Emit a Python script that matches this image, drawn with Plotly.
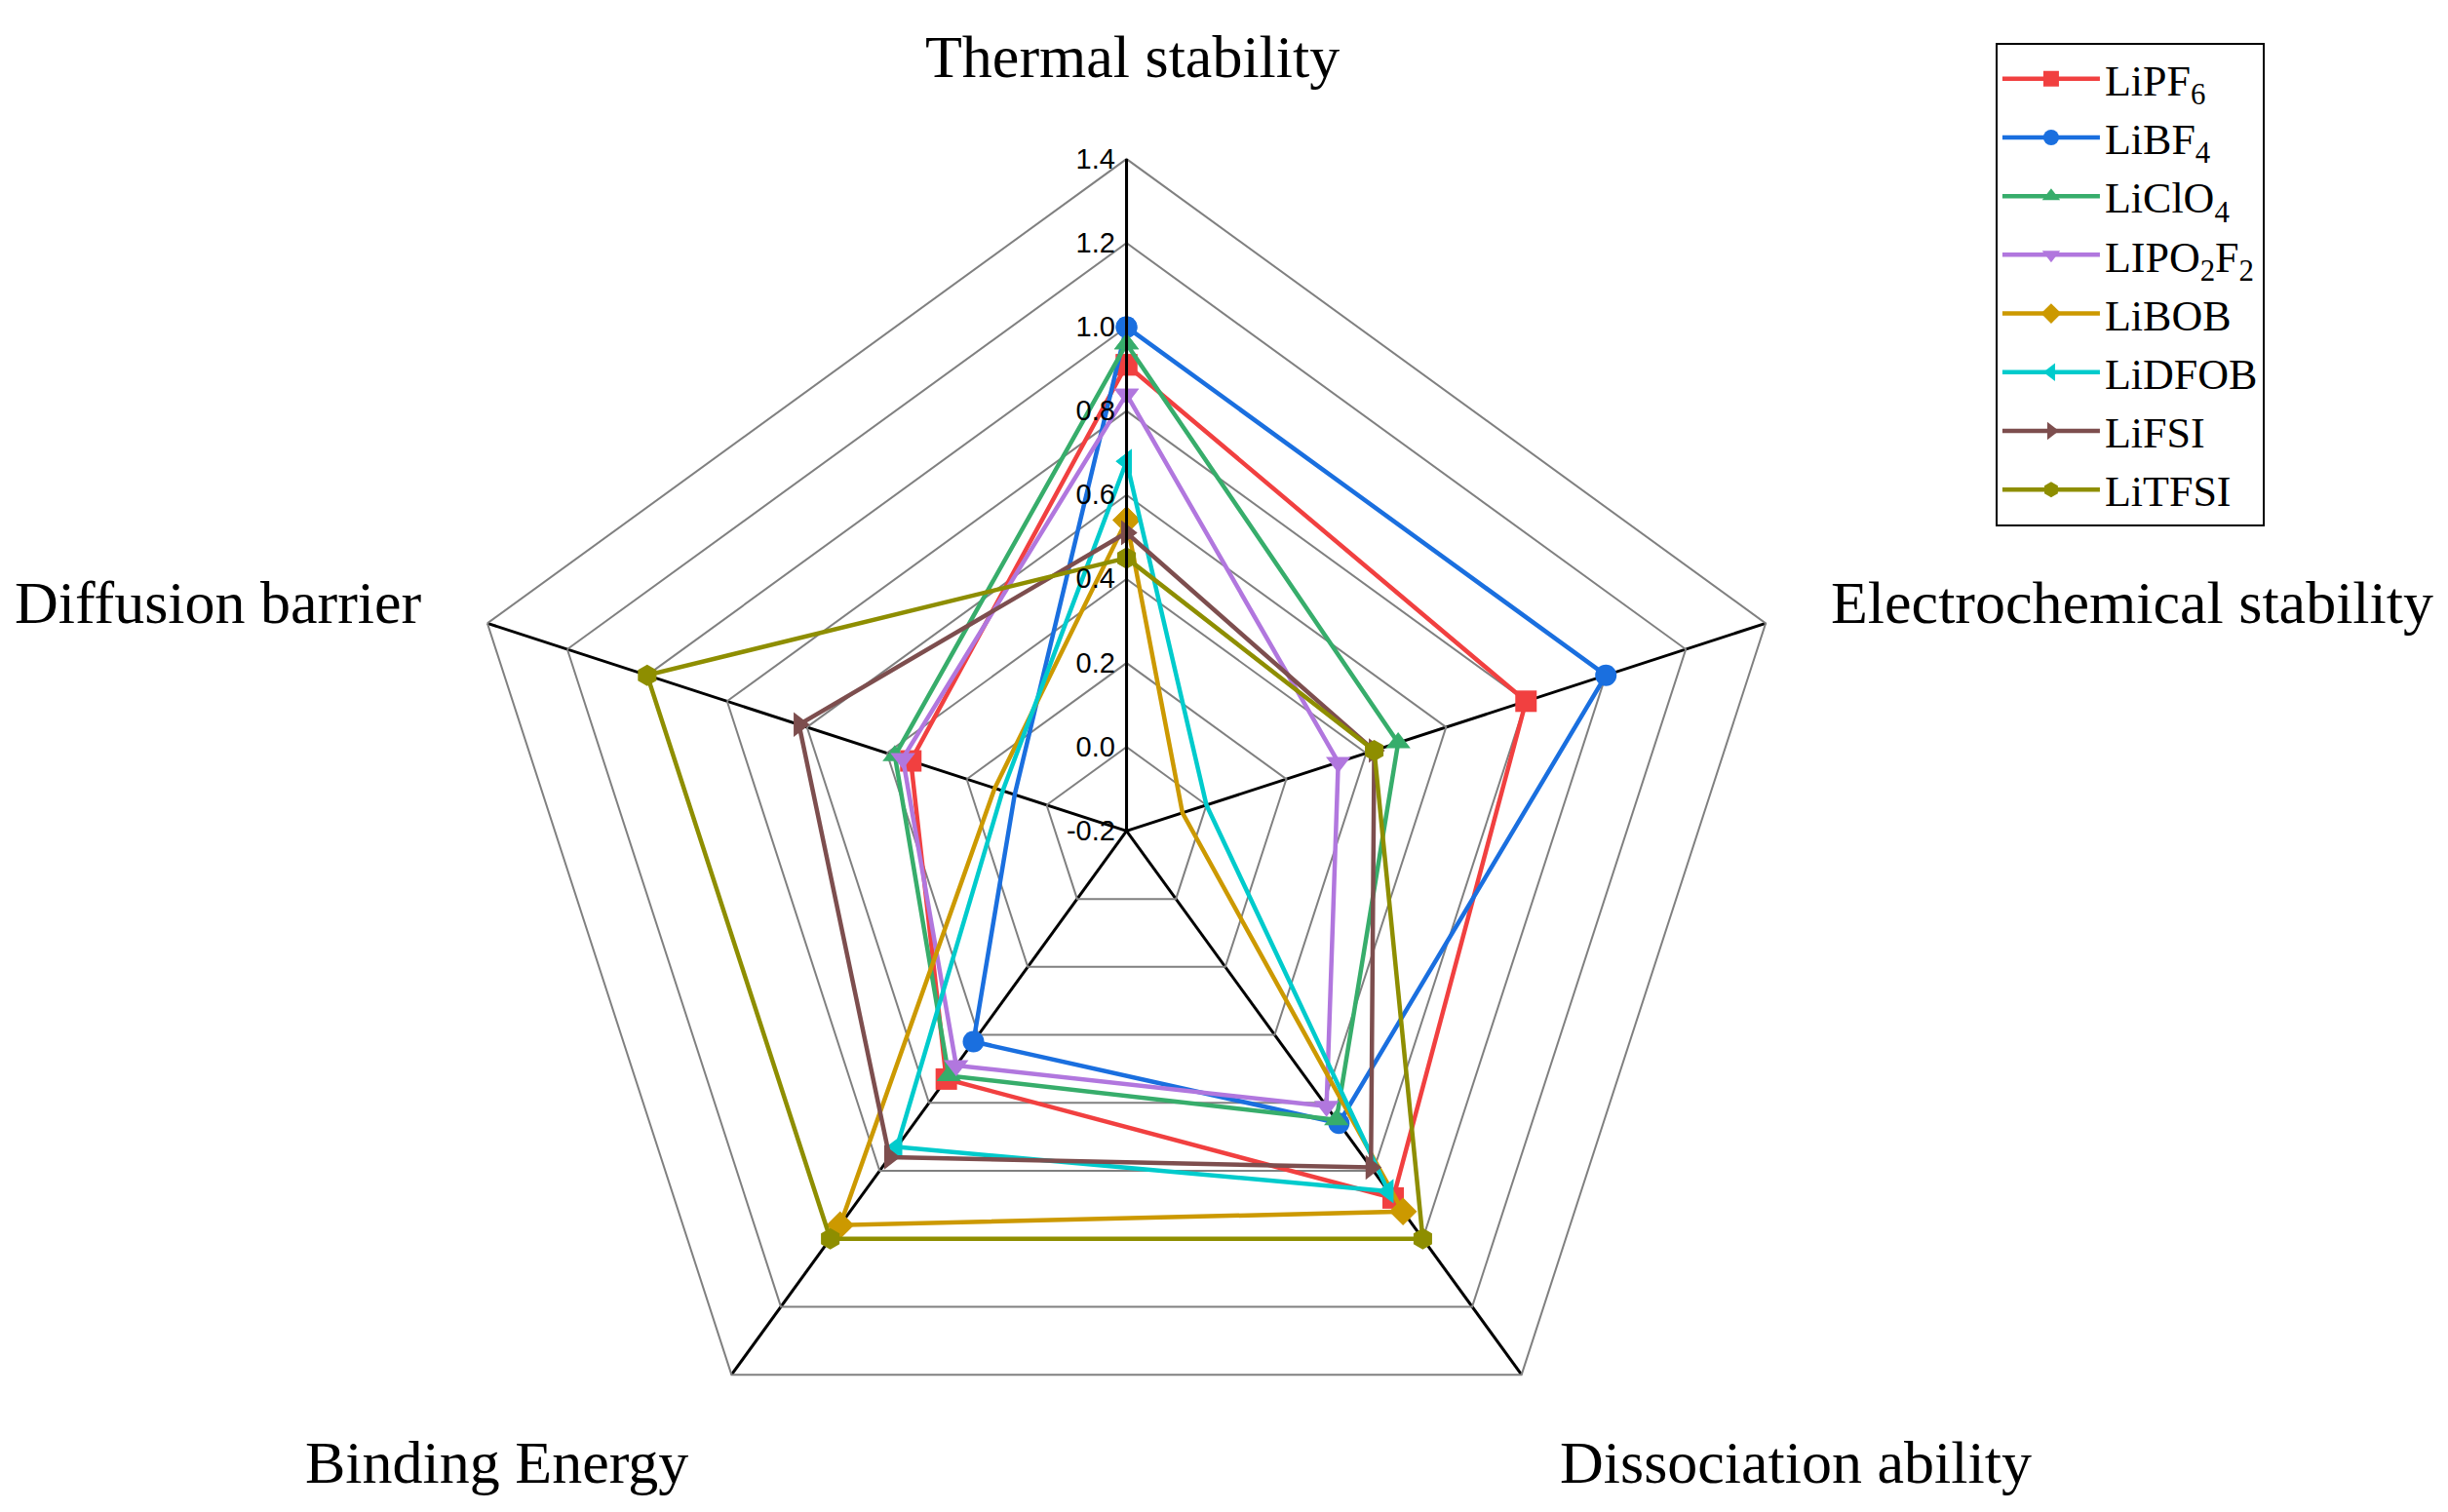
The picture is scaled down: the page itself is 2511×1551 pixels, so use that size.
import plotly.graph_objects as go

# ---------------- datos ----------------
ejes = ["Thermal stability", "Electrochemical stability", "Dissociation ability",
        "Binding Energy", "Diffusion barrier"]

sales = ["LiPF<sub>6</sub>", "LiBF<sub>4</sub>", "LiClO<sub>4</sub>", "LIPO<sub>2</sub>F<sub>2</sub>",
         "LiBOB", "LiDFOB", "LiFSI", "LiTFSI"]

LiPF6 = [0.91, 0.80, 0.88, 0.53, 0.34]
LiBF4 = [1.00, 1.00, 0.66, 0.42, 0.08]
LiClO4 = [0.96, 0.48, 0.65, 0.52, 0.38]
LiPO2F2 = [0.84, 0.33, 0.61, 0.49, 0.36]
LiBOB = [0.54, -0.06, 0.92, 0.96, 0.13]
LiDFOB = [0.68, 0.00, 0.86, 0.73, 0.11]
LiFSI = [0.51, 0.42, 0.79, 0.76, 0.62]
LiTFSI = [0.45, 0.42, 1.00, 1.00, 1.00]

valores = [LiPF6, LiBF4, LiClO4, LiPO2F2, LiBOB, LiDFOB, LiFSI, LiTFSI]

ticks = [-0.2, 0.0, 0.2, 0.4, 0.6, 0.8, 1.0, 1.2, 1.4]

colores = ["#F14040", "#1A6FDF", "#37AD6B", "#B177DE", "#CC9900", "#00CBCC", "#7D4E4E", "#8E8E00"]
simbolos = ["square", "circle", "triangle-up", "triangle-down", "diamond",
            "triangle-left", "triangle-right", "hexagon"]

fuente_serif = "Liberation Serif, Times New Roman, serif"

# ---------------- figura ----------------
fig = go.Figure()

for nombre, r, c, s in zip(sales, valores, colores, simbolos):
    # cerrar el polígono volviendo al primer eje
    fig.add_trace(go.Scatterpolar(
        r=r + r[:1], theta=ejes + ejes[:1],
        mode="lines+markers", name=nombre,
        line=dict(color=c, width=4.5),
        marker=dict(symbol=s, size=22, color=c),
    ))

fig.update_layout(
    width=2511, height=1551,
    margin=dict(l=0, r=0, t=0, b=0),
    paper_bgcolor="white",
    plot_bgcolor="white",
    polar=dict(
        domain=dict(x=[0.1824, 0.7316], y=[0.0111, 0.9000]),
        gridshape="linear",
        bgcolor="white",
        radialaxis=dict(
            range=[-0.2, 1.4],
            tickvals=ticks,
            ticktext=[f"{t:.1f}" for t in ticks],
            angle=90,
            tickangle=90,
            side="counterclockwise",
            showline=True, linecolor="black", linewidth=3,
            gridcolor="#808080", gridwidth=2,
            ticks="",
            tickfont=dict(family="Liberation Sans, Arial", size=29, color="black"),
        ),
        angularaxis=dict(
            direction="clockwise", rotation=90,
            showticklabels=False, ticks="",
            showline=True, linecolor="#808080", linewidth=2,
            gridcolor="black", gridwidth=3,
        ),
    ),
    legend=dict(
        x=0.812, y=0.977, xanchor="left", yanchor="top",
        bordercolor="black", borderwidth=2, bgcolor="white",
        font=dict(family=fuente_serif, size=44, color="black"),
        itemwidth=100,
    ),
    showlegend=True,
)

# etiquetas de los ejes
posiciones = [(0.4592, 0.968, "center"), (0.744, 0.607, "left"), (0.7302, 0.038, "center"),
              (0.1996, 0.038, "center"), (0.170, 0.607, "right")]
for texto, (px_, py_, anc) in zip(ejes, posiciones):
    fig.add_annotation(x=px_, y=py_, xref="paper", yref="paper", text=texto,
                       showarrow=False, xanchor=anc, yanchor="middle",
                       font=dict(family=fuente_serif, size=62, color="black"))

fig.write_html("out.html")
